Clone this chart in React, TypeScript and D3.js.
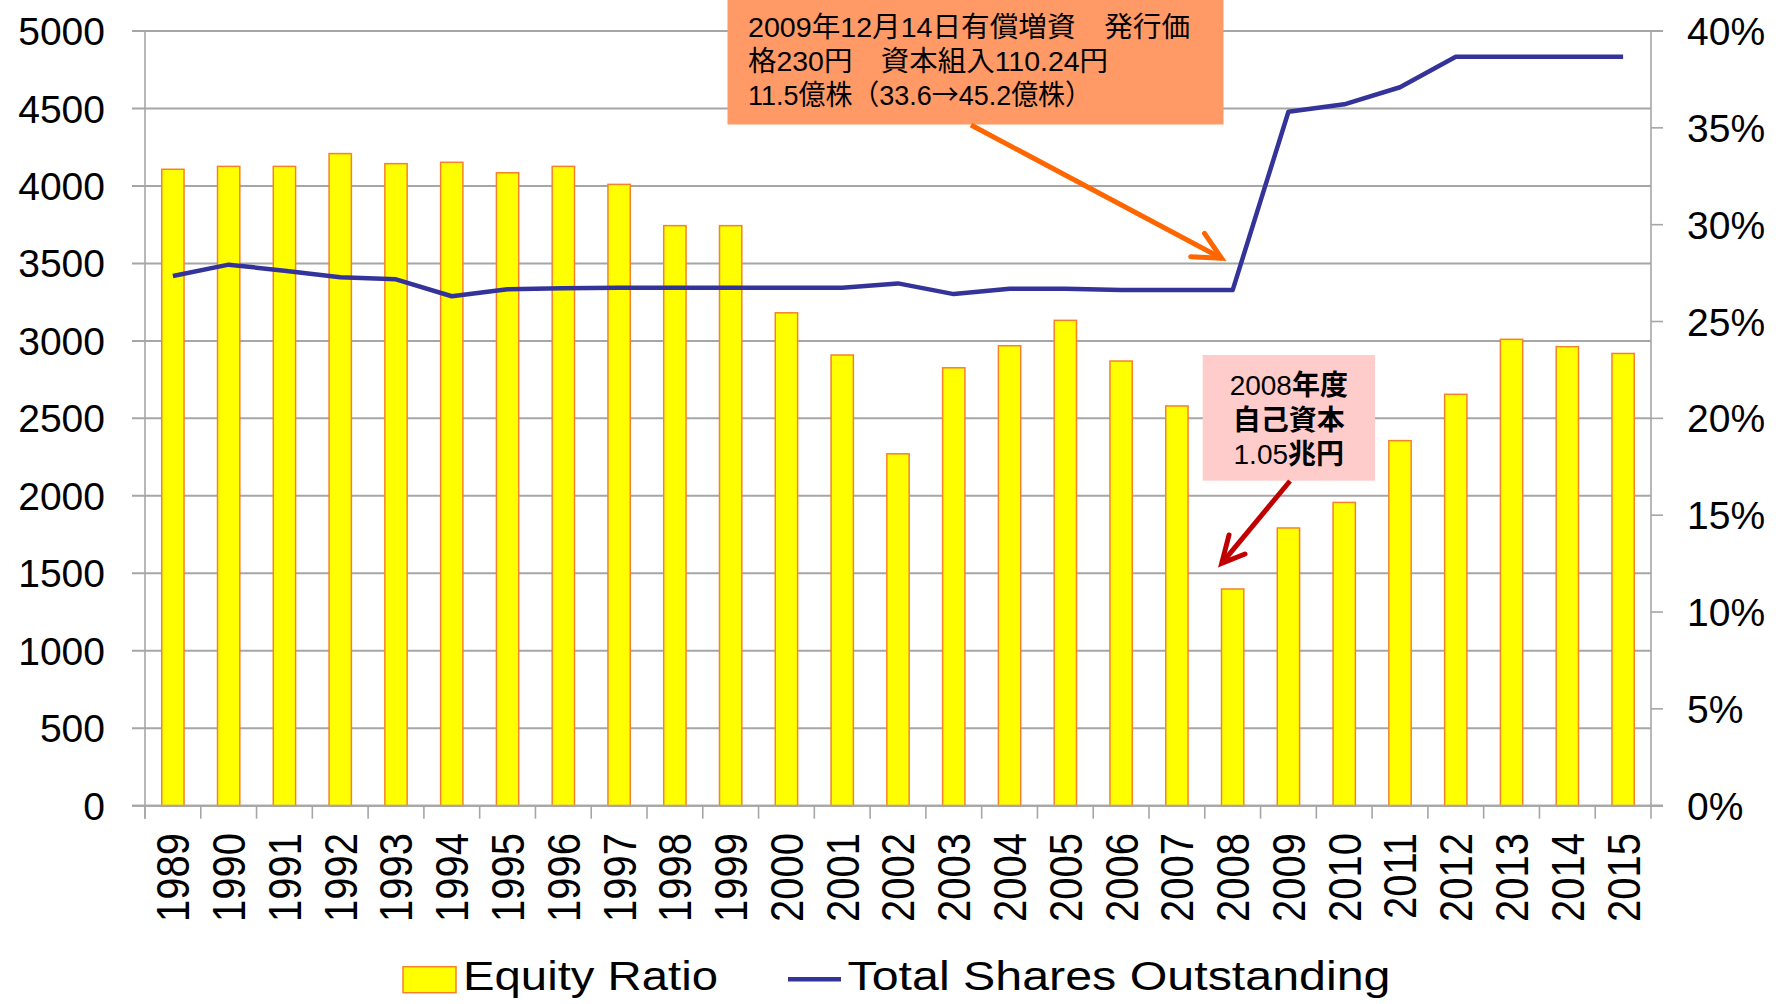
import React from 'react';
import * as d3 from 'd3';

const years = ['1989','1990','1991','1992','1993','1994','1995','1996','1997','1998','1999','2000','2001','2002','2003','2004','2005','2006','2007','2008','2009','2010','2011','2012','2013','2014','2015'];
const equityRatio = [32.86, 33.01, 33.01, 33.67, 33.15, 33.22, 32.68, 33.01, 32.08, 29.95, 29.95, 25.45, 23.27, 18.17, 22.61, 23.75, 25.06, 22.96, 20.64, 11.19, 14.34, 15.66, 18.85, 21.24, 24.08, 23.70, 23.35];
const sharesOutstanding = [3419, 3492, 3453, 3410, 3397, 3288, 3333, 3340, 3343, 3343, 3343, 3343, 3343, 3371, 3302, 3337, 3337, 3328, 3328, 3328, 4479, 4527, 4637, 4834, 4834, 4834, 4834];
const leftTicks = [0, 500, 1000, 1500, 2000, 2500, 3000, 3500, 4000, 4500, 5000];
const rightTicks = [0, 5, 10, 15, 20, 25, 30, 35, 40];
const seriesNames = ['Equity Ratio', 'Total Shares Outstanding'];
const noteIssue1 = '2009年12月14日有償増資　発行価';
const noteIssue2 = '格230円　資本組入110.24円';
const noteIssue3a = '11.5億株（33.6';
const noteIssue3b = '→';
const noteIssue3c = '45.2億株）';

const W = 1776, H = 1004;
const L = 145, R = 1651, T = 31, B = 805.7;
const latin = '"Liberation Sans", Arial, sans-serif';
const jp = '"Liberation Sans", "Noto Sans CJK JP", sans-serif';
const cjk = '"Noto Sans CJK JP", sans-serif';
const grid = '#a6a6a6';
const barFill = '#ffff00';
const barStroke = '#f5822a';
const lineColor = '#333399';

export default function App() {
  const x = d3.scaleBand<string>().domain(years).range([L, R]).padding(0);
  const xb = d3.scaleBand<string>().domain(years).range([L, R]).paddingInner(0.6).paddingOuter(0.3);
  const yL = d3.scaleLinear().domain([0, 5000]).range([B, T]);
  const yR = d3.scaleLinear().domain([0, 40]).range([B, T]);
  const cx = (y: string) => (x(y) as number) + x.bandwidth() / 2;
  const linePath = d3.line<number>().x((_, i) => cx(years[i])).y(d => yL(d)).curve(d3.curveLinear)(sharesOutstanding) || '';

  return (
    <svg width={W} height={H} style={{ position: 'absolute', left: 0, top: 0, background: '#fff' }}>
      {leftTicks.map(t => (
        <line key={'g' + t} x1={L - 13} x2={t === 0 || t === 5000 ? R + 12 : R} y1={yL(t)} y2={yL(t)} stroke={grid} strokeWidth={2} />
      ))}
      {years.map((yr, i) => (
        <rect key={'b' + yr} x={xb(yr)} y={yR(equityRatio[i])} width={xb.bandwidth()} height={B - yR(equityRatio[i])}
          fill={barFill} stroke={barStroke} strokeWidth={1.5} />
      ))}
      <line x1={L} x2={L} y1={T} y2={B + 13} stroke={grid} strokeWidth={1.6} />
      <line x1={R} x2={R} y1={T} y2={B + 13} stroke={grid} strokeWidth={1.6} />
      <line x1={L - 13} x2={R + 12} y1={B} y2={B} stroke={grid} strokeWidth={2} />
      {years.map(yr => (
        <line key={'xt' + yr} x1={x(yr)} x2={x(yr)} y1={B} y2={B + 13} stroke={grid} strokeWidth={1.6} />
      ))}
      {rightTicks.map(t => (
        <line key={'rt' + t} x1={R} x2={R + 12} y1={yR(t)} y2={yR(t)} stroke={grid} strokeWidth={1.6} />
      ))}
      <path d={linePath} fill="none" stroke={lineColor} strokeWidth={4.5} strokeLinejoin="round" />
      {leftTicks.map(t => (
        <text key={'lt' + t} x={105} y={yL(t)} dy="0.36em" textAnchor="end" fontFamily={latin} fontSize={39} fill="#000">{t}</text>
      ))}
      {rightTicks.map(t => (
        <text key={'rl' + t} x={1687} y={yR(t)} dy="0.36em" textAnchor="start" fontFamily={latin} fontSize={39} fill="#000">{t + '%'}</text>
      ))}
      {years.map(yr => (
        <text key={'xl' + yr} transform={`translate(${cx(yr)},833) rotate(-90) scale(1,1.14)`} dy="0.36em" textAnchor="end"
          fontFamily={latin} fontSize={40} fill="#000">{yr}</text>
      ))}
      {/* orange annotation */}
      <rect x={727.5} y={0} width={496} height={124.5} fill="#ff9966" />
      <text x={748} y={36.5} fontFamily={jp} fontSize={28} fill="#000" textLength={442} lengthAdjust="spacingAndGlyphs">{noteIssue1}</text>
      <text x={748} y={70.5} fontFamily={jp} fontSize={28} fill="#000" textLength={360} lengthAdjust="spacingAndGlyphs">{noteIssue2}</text>
      <text x={748} y={104.5} fontFamily={jp} fontSize={28} fill="#000" textLength={344} lengthAdjust="spacingAndGlyphs">
        <tspan>{noteIssue3a}</tspan><tspan fontFamily={cjk}>{noteIssue3b}</tspan><tspan>{noteIssue3c}</tspan>
      </text>
      <path d="M971,125 L1221.6,258.3" stroke="#ff6600" strokeWidth={5} fill="none" />
      <path d="M1204.5,233.3 L1221.6,258.3 L1190.7,256.7" stroke="#ff6600" strokeWidth={5} fill="none" strokeLinejoin="miter" strokeLinecap="round" />
      {/* pink annotation */}
      <rect x={1202.7} y={355} width={172.3} height={125.7} fill="#ffcccc" />
      <text x={1288.8} y={395} textAnchor="middle" fontFamily={jp} fontSize={28} fill="#000">
        <tspan>2008</tspan><tspan fontWeight="bold">年度</tspan>
      </text>
      <text x={1288.8} y={429.5} textAnchor="middle" fontFamily={jp} fontSize={28} fontWeight="bold" fill="#000">自己資本</text>
      <text x={1288.8} y={463.5} textAnchor="middle" fontFamily={jp} fontSize={28} fill="#000">
        <tspan>1.05</tspan><tspan fontWeight="bold">兆円</tspan>
      </text>
      <path d="M1290,481 L1221.7,563.3" stroke="#c00000" strokeWidth={5} fill="none" />
      <path d="M1229,535 L1221.7,563.3 L1245,554" stroke="#c00000" strokeWidth={5} fill="none" strokeLinejoin="miter" strokeLinecap="round" />
      {/* legend */}
      <rect x={403} y={966.7} width={53} height={26} fill={barFill} stroke={barStroke} strokeWidth={1.5} />
      <text x={463} y={990} fontFamily={latin} fontSize={41} fill="#000" textLength={255} lengthAdjust="spacingAndGlyphs">{seriesNames[0]}</text>
      <line x1={788} x2={841} y1={979.3} y2={979.3} stroke={lineColor} strokeWidth={4.5} />
      <text x={847.5} y={990} fontFamily={latin} fontSize={41} fill="#000" textLength={543} lengthAdjust="spacingAndGlyphs">{seriesNames[1]}</text>
    </svg>
  );
}
